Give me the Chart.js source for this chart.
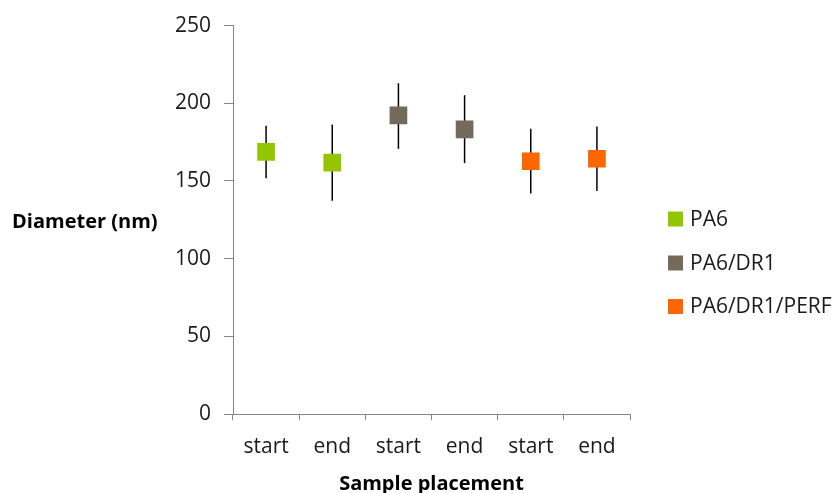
<!DOCTYPE html>
<html>
<head>
<meta charset="utf-8">
<script src="https://cdn.jsdelivr.net/npm/chart.js@4/dist/chart.umd.min.js"></script>
<style>
  html, body { margin: 0; padding: 0; background: #ffffff; }
  #wrap { width: 839px; height: 493px; position: relative; }
</style>
</head>
<body>
<div id="wrap"><canvas id="c" width="839" height="493"></canvas></div>
<script>
// Sample placements along the x axis (two per material)
const categories = ['start', 'end', 'start', 'end', 'start', 'end'];
const seriesNames = ['PA6', 'PA6/DR1', 'PA6/DR1/PERF'];
const seriesColors = ['#93C600', '#746A5C', '#FF6600'];

// Mean fibre diameter (nm) at start / end for each material
const pa6Mean = [168.7, 161.8];
const dr1Mean = [192.2, 183.2];
const perfMean = [162.7, 164.3];

// Error bar limits (nm)
const pa6Low = [151.7, 137.3];
const pa6High = [185.5, 186.4];
const dr1Low = [170.7, 161.5];
const dr1High = [212.9, 205.2];
const perfLow = [142.0, 143.5];
const perfHigh = [183.6, 185.1];

const yTicks = [0, 50, 100, 150, 200, 250];

// Place a series' two values at its own pair of category slots
function place(values, slot) {
  const out = categories.map(() => null);
  out[slot * 2] = values[0];
  out[slot * 2 + 1] = values[1];
  return out;
}

const means = [pa6Mean, dr1Mean, perfMean];
const lows = [pa6Low, dr1Low, perfLow];
const highs = [pa6High, dr1High, perfHigh];

const datasets = seriesNames.map((name, i) => ({
  label: name,
  data: place(means[i], i),
  errLow: place(lows[i], i),
  errHigh: place(highs[i], i),
  showLine: false,
  pointStyle: 'rect',
  pointRadius: 12.5,
  pointHoverRadius: 12.5,
  backgroundColor: seriesColors[i],
  borderColor: seriesColors[i],
  pointBorderWidth: 0
}));

const FONT = '"Open Sans", "DejaVu Sans", sans-serif';

// Vertical error bars, drawn beneath the markers
const errorBars = {
  id: 'errorBars',
  beforeDatasetsDraw(chart) {
    const { ctx, scales } = chart;
    ctx.save();
    ctx.strokeStyle = '#000000';
    ctx.lineWidth = 1.5;
    chart.data.datasets.forEach((ds) => {
      ds.data.forEach((v, idx) => {
        if (v === null) return;
        const x = scales.x.getPixelForValue(idx);
        const y1 = scales.y.getPixelForValue(ds.errLow[idx]);
        const y2 = scales.y.getPixelForValue(ds.errHigh[idx]);
        ctx.beginPath();
        ctx.moveTo(x, y1);
        ctx.lineTo(x, y2);
        ctx.stroke();
      });
    });
    ctx.restore();
  }
};

// Axis titles and the side legend
const annotations = {
  id: 'annotations',
  afterDraw(chart) {
    const { ctx, chartArea } = chart;
    ctx.save();
    ctx.fillStyle = '#000000';
    ctx.font = 'bold 20px ' + FONT;
    ctx.textBaseline = 'middle';
    ctx.textAlign = 'left';
    ctx.fillText('Diameter (nm)', 12, 222);
    ctx.textAlign = 'center';
    ctx.fillText('Sample placement', (chartArea.left + chartArea.right) / 2, 484);

    ctx.font = '21px ' + FONT;
    ctx.textAlign = 'left';
    const rows = [219, 263, 306.5];
    chart.data.datasets.forEach((ds, i) => {
      ctx.fillStyle = ds.backgroundColor;
      ctx.fillRect(668, rows[i] - 7.5, 15, 15);
      ctx.fillStyle = '#1a1a1a';
      ctx.fillText(ds.label, 690, rows[i] + 1);
    });
    ctx.restore();
  }
};

new Chart(document.getElementById('c'), {
  type: 'line',
  data: { labels: categories, datasets },
  options: {
    responsive: false,
    animation: false,
    layout: { padding: { left: 0, right: 209, top: 25, bottom: 0 } },
    plugins: {
      legend: { display: false },
      tooltip: { enabled: false }
    },
    scales: {
      x: {
        type: 'category',
        offset: true,
        grid: {
          offset: true,
          drawOnChartArea: false,
          drawTicks: true,
          tickLength: 6,
          color: '#868686',
          lineWidth: 1
        },
        border: { display: true, color: '#868686', width: 1 },
        ticks: {
          color: '#1a1a1a',
          font: { family: FONT, size: 21 },
          padding: 14,
          maxRotation: 0,
          autoSkip: false
        },
        afterFit(scale) { scale.height = 79; }
      },
      y: {
        min: 0,
        max: 250,
        afterBuildTicks(scale) { scale.ticks = yTicks.map(v => ({ value: v })); },
        grid: {
          drawOnChartArea: false,
          drawTicks: true,
          tickLength: 9,
          color: '#868686',
          lineWidth: 1
        },
        border: { display: true, color: '#868686', width: 1 },
        ticks: {
          color: '#1a1a1a',
          font: { family: FONT, size: 21 },
          padding: 13
        },
        afterFit(scale) { scale.width = 233; }
      }
    }
  },
  plugins: [errorBars, annotations]
});
</script>
</body>
</html>
